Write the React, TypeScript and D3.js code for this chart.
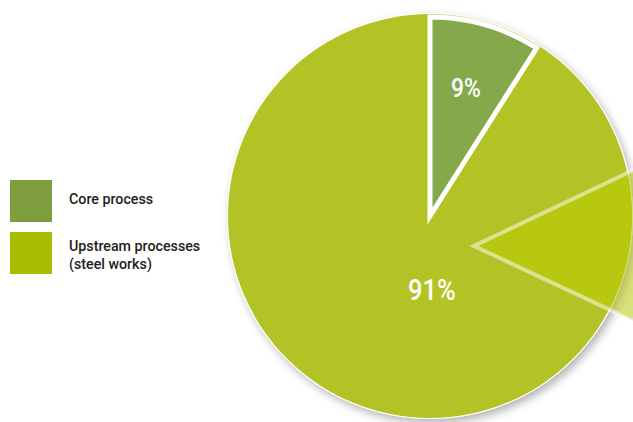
import React from "react";
import * as d3 from "d3";

const categories = ["Core process", "Upstream processes (steel works)"];
const values = [9, 91];
const labels = ["9%", "91%"];
const colors = ["#84a84a", "#b3c224"];
const legendColors = ["#7e9e3d", "#a9bb00"];
const legendLines = [["Core process"], ["Upstream processes", "(steel works)"]];

const W = 633;
const H = 422;
const cx = 430;
const cy = 216;
const R = 202;

export default function App() {
  const pie = d3.pie<number>().sort(null).value((d) => d)(values);
  const fullArc = d3.arc<any>().innerRadius(0).outerRadius(R);
  const coreArc = d3.arc<any>().innerRadius(0).outerRadius(R - 3);

  const calloutAngles = [64.5, 115.2].map((a) => (a * Math.PI) / 180);
  const calloutApex = [474, 246];
  const calloutArc = d3
    .arc<any>()
    .innerRadius(0)
    .outerRadius(260)
    .startAngle(calloutAngles[0])
    .endAngle(calloutAngles[1]);
  const calloutPath = calloutArc({} as any) as string;

  const centroids = [
    [cx + 36, cy - 128],
    [cx + 2, cy + 74],
  ];

  return (
    <svg
      width={W}
      height={H}
      style={{ position: "absolute", left: 0, top: 0, background: "#fff" }}
    >
      <defs>
        <filter id="sh" x="-20%" y="-20%" width="140%" height="140%">
          <feDropShadow dx="3" dy="4" stdDeviation="4" floodColor="#000" floodOpacity="0.3" />
        </filter>
        <clipPath id="circ">
          <circle cx={cx} cy={cy} r={R} />
        </clipPath>
        <mask id="outside">
          <rect x={0} y={0} width={W} height={H} fill="#fff" />
          <circle cx={cx} cy={cy} r={R} fill="#000" />
        </mask>
      </defs>
      <circle cx={cx} cy={cy} r={R + 1} fill="#fff" filter="url(#sh)" />
      <g transform={`translate(${cx},${cy})`}>
        <path d={fullArc({ startAngle: 0, endAngle: Math.PI * 2 } as any) as string} fill={colors[1]} />
      </g>
      <g clipPath="url(#circ)">
        <path
          transform={`translate(${calloutApex[0]},${calloutApex[1]})`}
          d={calloutPath}
          fill="#b8c710"
        />
      </g>
      <g mask="url(#outside)">
        <path
          transform={`translate(${calloutApex[0]},${calloutApex[1]})`}
          d={calloutPath}
          fill="#b8c710"
          fillOpacity={0.55}
        />
      </g>
      <path
        transform={`translate(${calloutApex[0]},${calloutApex[1]})`}
        d={calloutPath}
        fill="none"
        stroke="#fff"
        strokeOpacity={0.5}
        strokeWidth={4}
      />
      <g transform={`translate(${cx},${cy})`}>
        <path
          d={coreArc(pie[0]) as string}
          fill={colors[0]}
          stroke="#fff"
          strokeWidth={5}
          strokeLinejoin="miter"
          strokeMiterlimit={10}
        />
      </g>
      {pie.map((p, i) => (
        <text
          key={i}
          transform={`translate(${centroids[i][0]},${centroids[i][1]}) scale(0.88,1)`}
          textAnchor="middle"
          dominantBaseline="central"
          fill="#fff"
          fontFamily="Roboto, sans-serif"
          fontWeight={500}
          fontSize={i === 0 ? 26 : 29}
        >
          {labels[i]}
        </text>
      ))}
      {categories.map((c, i) => (
        <g key={c} transform={`translate(10,${180 + i * 52})`}>
          <rect x={0} y={0} width={42} height={42} fill={legendColors[i]} />
          {legendLines[i].map((l, j) => (
            <text
              key={j}
              transform={`translate(59,${24 + j * 18 - (legendLines[i].length > 1 ? 5 : 0)}) scale(0.92,1)`}
              fontFamily="Roboto, sans-serif"
              fontSize={15.5}
              fontWeight={500}
              fill="#1e1e1e"
            >
              {l}
            </text>
          ))}
        </g>
      ))}
    </svg>
  );
}
